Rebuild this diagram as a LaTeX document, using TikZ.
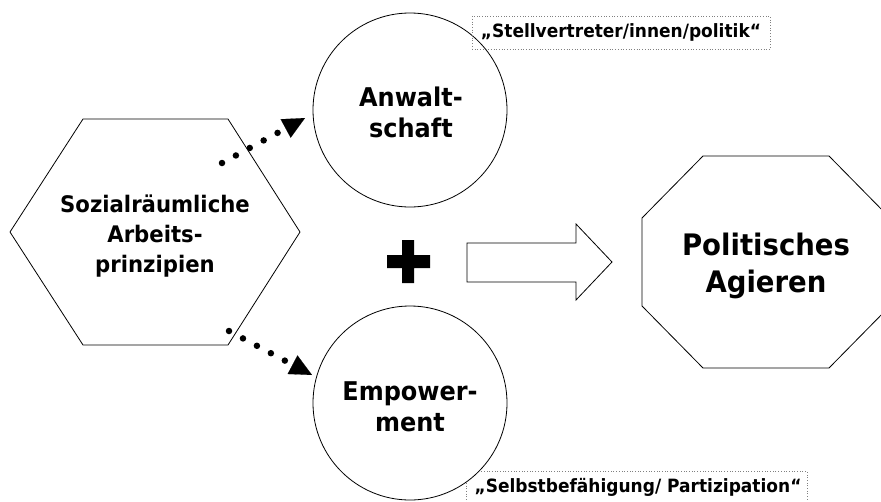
\documentclass[tikz,border=0pt]{standalone}
\usepackage{fontspec}
\setmainfont{DejaVu Sans}[FakeStretch=0.93]
\usetikzlibrary{arrows.meta}
\begin{document}
\begin{tikzpicture}[x=1pt,y=-1pt]
\tikzset{
  shapeline/.style={draw=black, line width=0.8pt, fill=white},
  lbl/.style={align=center, inner sep=0pt},
  notebox/.style={draw=gray, dotted, line width=0.7pt},
  dotarrow/.style={line width=6.5pt, line cap=round, dash pattern=on 0pt off 15.8pt,
    -{Triangle[length=22pt,width=21pt,line width=0.1pt]}},
}
\useasboundingbox (0,0) rectangle (881,501);
\clip (0,0) rectangle (881,501);
\fill[white] (0,0) rectangle (881,501);

% hexagon
\draw[shapeline] (10,232) -- (83,119) -- (228,119) -- (300,232) -- (228,345) -- (83,345) -- cycle;
\node[lbl, font=\fontsize{22.8}{30}\selectfont\bfseries] (hex) at (155,236) {Sozialräumliche\\Arbeits-\\prinzipien};

% top circle and its note
\node[shapeline, circle, minimum size=194pt, inner sep=0pt] (anw) at (410,110) {};
\node[lbl, font=\fontsize{25.8}{31}\selectfont\bfseries] (anwt) at (411,112) {Anwalt-\\schaft};
\node[notebox, minimum width=298pt, minimum height=33pt, inner sep=0pt,
      font=\fontsize{18.3}{22}\selectfont\bfseries] (note1) at (621,32.5) {„Stellvertreter/innen/politik“};

% bottom note and circle
\node[notebox, minimum width=341pt, minimum height=49pt, anchor=north west, inner sep=0pt] (note2) at (466,471) {};
\node[lbl, font=\fontsize{18.3}{22}\selectfont\bfseries] (note2t) at (638,487) {„Selbstbefähigung/ Partizipation“};
\node[shapeline, circle, minimum size=194pt, inner sep=0pt] (emp) at (410,403) {};
\node[lbl, font=\fontsize{25.8}{31}\selectfont\bfseries] (empt) at (410,407) {Empower-\\ment};

% dotted connectors
\coordinate (h1) at (222,163);
\coordinate (a1) at (305,118);
\coordinate (h2) at (229,331);
\coordinate (e2) at (312,375);
\draw[dotarrow] (h1) -- (a1);
\draw[dotarrow] (h2) -- (e2);

% plus
\fill[black] (402,240) -- (414,240) -- (414,255) -- (430,255) -- (430,268) -- (414,268)
  -- (414,283) -- (402,283) -- (402,268) -- (387,268) -- (387,255) -- (402,255) -- cycle;

% block arrow
\draw[shapeline] (467,243) -- (576,243) -- (576,224) -- (612,262) -- (576,300) -- (576,282) -- (467,282) -- cycle;

% octagon
\draw[shapeline] (703,156) -- (829,156) -- (890,218) -- (890,306) -- (829,368) -- (703,368) -- (642,306) -- (642,218) -- cycle;
\node[lbl, font=\fontsize{29.6}{37}\selectfont\bfseries] (pol) at (766,266) {Politisches\\Agieren};
\end{tikzpicture}
\end{document}
